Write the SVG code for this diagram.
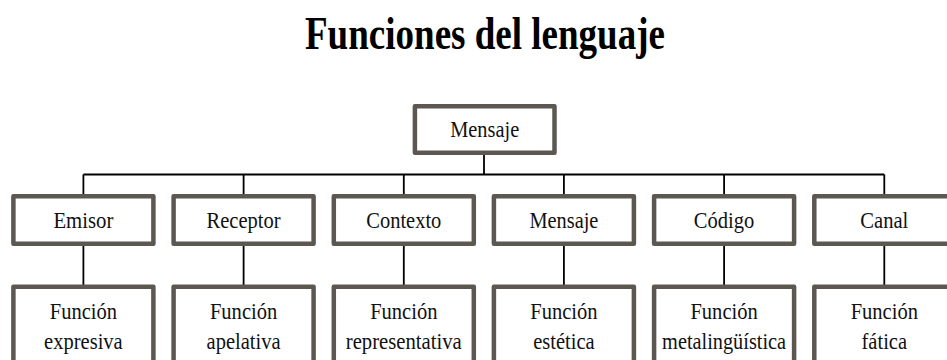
<svg xmlns="http://www.w3.org/2000/svg" width="947" height="360" viewBox="0 0 947 360">
<style>
.box{fill:#ffffff;stroke:#5c5750;stroke-width:4.5;stroke-linejoin:round}
.t{font-family:"Liberation Serif","Times New Roman",serif;font-size:24px;fill:#111111;text-anchor:middle}
.title{font-family:"Liberation Serif","Times New Roman",serif;font-size:46px;font-weight:bold;fill:#000000;text-anchor:middle}
.c{stroke:#000000;stroke-width:1.8;fill:none}
</style>
<rect width="947" height="360" fill="#ffffff"/>
<text class="title" x="485" y="48.5" textLength="360" lengthAdjust="spacingAndGlyphs">Funciones del lenguaje</text>
<g id="connectors">
<path class="c" d="M484,155 V174.5 M83.4,174.5 H884.3"/>
<path class="c" d="M83.4,174.5 V194 M243.6,174.5 V194 M403.8,174.5 V194 M563.9,174.5 V194 M724.1,174.5 V194 M884.3,174.5 V194"/>
<path class="c" d="M83.4,246 V285 M243.6,246 V285 M403.8,246 V285 M563.9,246 V285 M724.1,246 V285 M884.3,246 V285"/>
</g>
<g id="root">
<rect class="box" x="414.9" y="106.2" width="139.6" height="46.6"/>
<text class="t" x="484.7" y="136.7" textLength="69" lengthAdjust="spacingAndGlyphs">Mensaje</text>
</g>
<g id="emisor">
<rect class="box" x="13.4" y="196.3" width="140" height="47.5"/>
<text class="t" x="83.4" y="228" textLength="60" lengthAdjust="spacingAndGlyphs">Emisor</text>
</g>
<g id="receptor">
<rect class="box" x="173.6" y="196.3" width="140" height="47.5"/>
<text class="t" x="243.6" y="228" textLength="74" lengthAdjust="spacingAndGlyphs">Receptor</text>
</g>
<g id="contexto">
<rect class="box" x="333.8" y="196.3" width="140" height="47.5"/>
<text class="t" x="403.8" y="228" textLength="75" lengthAdjust="spacingAndGlyphs">Contexto</text>
</g>
<g id="mensaje">
<rect class="box" x="493.9" y="196.3" width="140" height="47.5"/>
<text class="t" x="563.9" y="228" textLength="69" lengthAdjust="spacingAndGlyphs">Mensaje</text>
</g>
<g id="codigo">
<rect class="box" x="654.1" y="196.3" width="140" height="47.5"/>
<text class="t" x="724.1" y="228" textLength="60.5" lengthAdjust="spacingAndGlyphs">Código</text>
</g>
<g id="canal">
<rect class="box" x="814.3" y="196.3" width="140" height="47.5"/>
<text class="t" x="884.3" y="228" textLength="48" lengthAdjust="spacingAndGlyphs">Canal</text>
</g>
<g id="f-expresiva">
<rect class="box" x="13.4" y="286.8" width="140" height="100"/>
<text class="t" x="83.4" y="318.5" textLength="67.3" lengthAdjust="spacingAndGlyphs">Función</text>
<text class="t" x="83.4" y="348.5" textLength="78.6" lengthAdjust="spacingAndGlyphs">expresiva</text>
</g>
<g id="f-apelativa">
<rect class="box" x="173.6" y="286.8" width="140" height="100"/>
<text class="t" x="243.6" y="318.5" textLength="67.3" lengthAdjust="spacingAndGlyphs">Función</text>
<text class="t" x="243.6" y="348.5" textLength="74" lengthAdjust="spacingAndGlyphs">apelativa</text>
</g>
<g id="f-representativa">
<rect class="box" x="333.8" y="286.8" width="140" height="100"/>
<text class="t" x="403.8" y="318.5" textLength="67.3" lengthAdjust="spacingAndGlyphs">Función</text>
<text class="t" x="403.8" y="348.5" textLength="116" lengthAdjust="spacingAndGlyphs">representativa</text>
</g>
<g id="f-estetica">
<rect class="box" x="493.9" y="286.8" width="140" height="100"/>
<text class="t" x="563.9" y="318.5" textLength="67.3" lengthAdjust="spacingAndGlyphs">Función</text>
<text class="t" x="563.9" y="348.5" textLength="61.5" lengthAdjust="spacingAndGlyphs">estética</text>
</g>
<g id="f-metalinguistica">
<rect class="box" x="654.1" y="286.8" width="140" height="100"/>
<text class="t" x="724.1" y="318.5" textLength="67.3" lengthAdjust="spacingAndGlyphs">Función</text>
<text class="t" x="724.1" y="348.5" textLength="124" lengthAdjust="spacingAndGlyphs">metalingüística</text>
</g>
<g id="f-fatica">
<rect class="box" x="814.3" y="286.8" width="140" height="100"/>
<text class="t" x="884.3" y="318.5" textLength="67.3" lengthAdjust="spacingAndGlyphs">Función</text>
<text class="t" x="884.3" y="348.5" textLength="45.6" lengthAdjust="spacingAndGlyphs">fática</text>
</g>
</svg>
